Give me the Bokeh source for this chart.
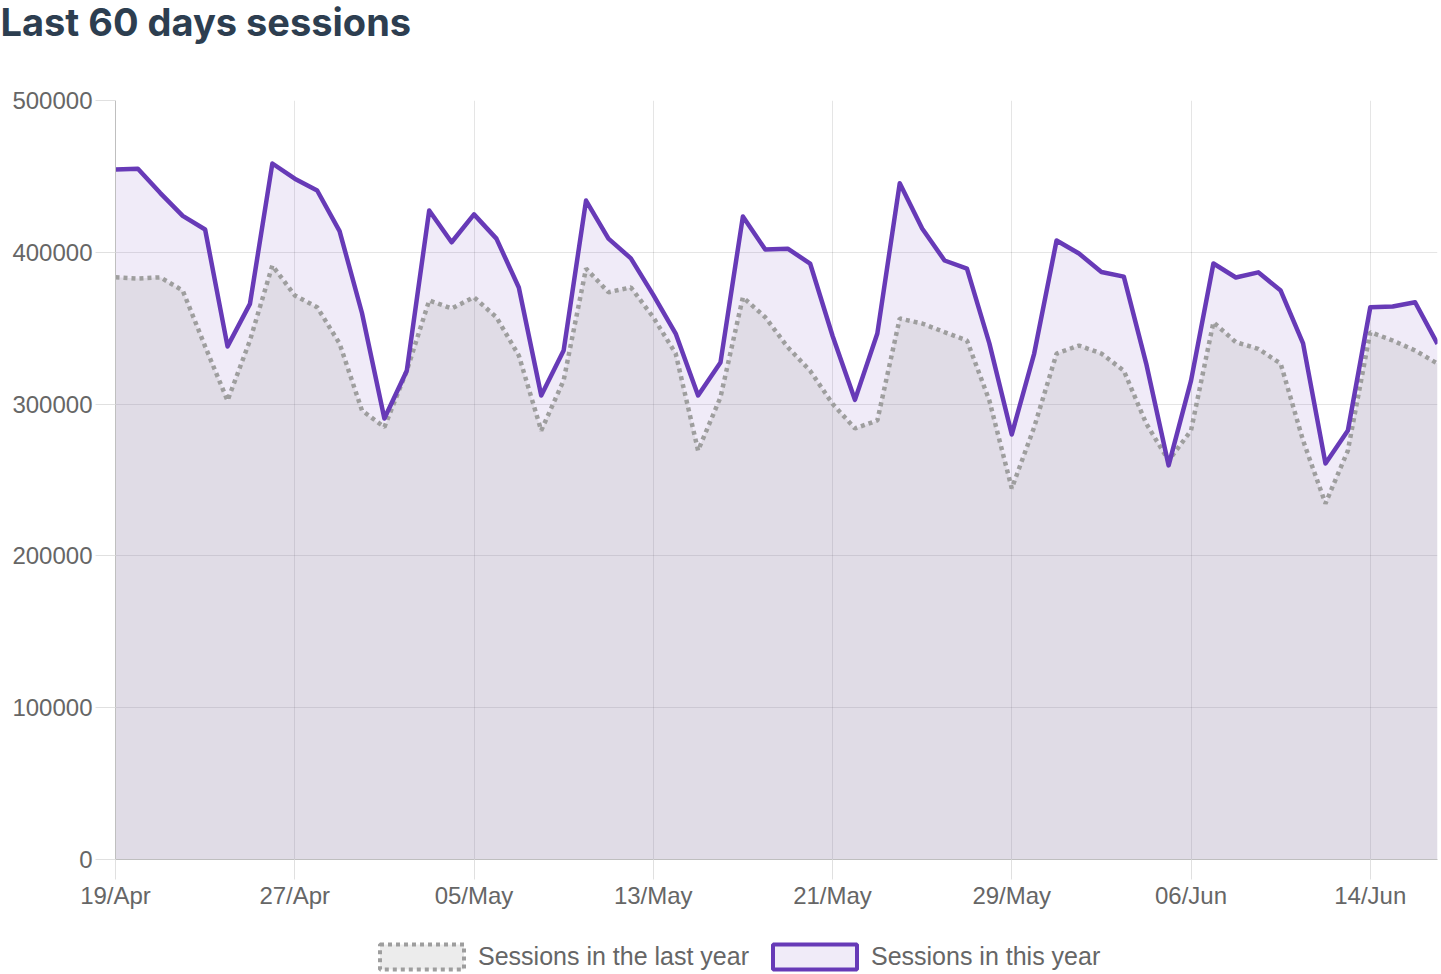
from bokeh.plotting import figure
from bokeh.layouts import column
from bokeh.models import Range1d, FixedTicker, NumeralTickFormatter, Legend, LegendItem
from bokeh.core.properties import value
from bokeh.embed import file_html
from bokeh.resources import INLINE

# ---- data ----
title_text = "Last 60 days sessions"
days = list(range(60))  # 19/Apr .. 17/Jun
tick_days = [0, 8, 16, 24, 32, 40, 48, 56]
tick_labels = ["19/Apr", "27/Apr", "05/May", "13/May", "21/May", "29/May", "06/Jun", "14/Jun"]

this_year = [
    454500, 455000, 439000, 424000, 415000, 338000, 366000, 458500, 448500, 440700,
    414000, 360000, 290500, 322000, 427500, 406600, 425000, 409000, 376800, 305700,
    335300, 434100, 409000, 396000, 372000, 346500, 305700, 327400, 423600, 401800,
    402400, 392600, 345000, 302800, 346500, 445500, 415700, 394600, 389300, 340000,
    280000, 333300, 407800, 399200, 387000, 384000, 326700, 259600, 315500, 392600,
    383400, 386800, 374800, 340000, 260900, 282600, 363800, 364300, 367100, 339700,
]
last_year = [
    383500, 382700, 383500, 374800, 338000, 302300, 341900, 391300, 371600, 363800,
    339900, 295800, 284800, 322000, 368300, 363000, 370400, 357200, 332000, 282600,
    315600, 389300, 373700, 376900, 357200, 333300, 269400, 304500, 370400, 357200,
    337500, 322000, 300200, 284000, 289200, 356400, 353100, 347400, 341900, 302300,
    244400, 284800, 333300, 338600, 333300, 322000, 287200, 262800, 282600, 353900,
    340800, 336400, 326700, 276000, 234500, 269400, 347400, 341900, 335300, 326700,
]
y_ticks = [0, 100000, 200000, 300000, 400000, 500000]
series_names = ["Sessions in the last year", "Sessions in this year"]

PURPLE = "#673ab7"
GREY = "#9e9e9e"
FONT = "Liberation Sans"
W = 1441


def blank_fig(h):
    f = figure(width=W, height=h, output_backend="svg", toolbar_location=None,
               x_range=Range1d(0, W), y_range=Range1d(0, h),
               min_border=0, min_border_left=0, min_border_right=0,
               min_border_top=0, min_border_bottom=0)
    f.frame_align = False
    f.axis.visible = False
    f.grid.visible = False
    f.outline_line_color = None
    return f


# ---- title strip ----
TH = 60
tf = blank_fig(TH)
tf.text(x=[0], y=[TH - 21], text=[title_text], text_font=value("Inter"),
        text_font_size="38px", text_font_style="bold", text_color="#2d3e50",
        text_baseline="alphabetic", text_align="left")

# ---- main chart ----
MH = 870
p = figure(width=W, height=MH, output_backend="svg", toolbar_location=None,
           x_range=Range1d(0, 59), y_range=Range1d(0, 500000),
           min_border_left=115, min_border_right=4, min_border_top=40, min_border_bottom=71)
p.frame_align = False
p.outline_line_color = None

p.varea(x=days, y1=0, y2=this_year, fill_color=PURPLE, fill_alpha=0.1)
p.varea(x=days, y1=0, y2=last_year, fill_color=GREY, fill_alpha=0.2)
p.line(x=days, y=last_year, line_color=GREY, line_width=4.5, line_dash="4 4")
p.line(x=days, y=this_year, line_color=PURPLE, line_width=4.5, line_join="round")

for ax in (p.xaxis[0], p.yaxis[0]):
    ax.axis_line_color = "#bfbfbf"
    ax.axis_line_width = 1
    ax.major_tick_line_color = "#e0e0e0"
    ax.major_tick_in = 0
    ax.major_tick_out = 20
    ax.minor_tick_line_color = None
    ax.major_label_text_font = FONT
    ax.major_label_text_font_size = "24px"
    ax.major_label_text_color = "#666666"
p.xaxis.ticker = FixedTicker(ticks=tick_days)
p.xaxis.major_label_overrides = {d: l for d, l in zip(tick_days, tick_labels)}
p.xaxis.major_label_standoff = 2
p.yaxis.ticker = FixedTicker(ticks=y_ticks)
p.yaxis.formatter = NumeralTickFormatter(format="0")
p.yaxis.major_label_standoff = 3

p.xgrid.ticker = FixedTicker(ticks=tick_days)
p.ygrid.ticker = FixedTicker(ticks=y_ticks)
for g in (p.xgrid[0], p.ygrid[0]):
    g.grid_line_color = "#000000"
    g.grid_line_alpha = 0.1

# ---- legend strip ----
LH = 44
lf = blank_fig(LH)
# off-screen swatch glyphs used only for the legend boxes
r1 = lf.quad(left=[-30], right=[-20], top=[-20], bottom=[-30], fill_color=GREY, fill_alpha=0.2,
             line_color=GREY, line_width=4, line_dash="4 4")
r2 = lf.quad(left=[-30], right=[-20], top=[-20], bottom=[-30], fill_color=PURPLE, fill_alpha=0.1,
             line_color=PURPLE, line_width=4)
legend = Legend(items=[LegendItem(label=series_names[0], renderers=[r1]),
                       LegendItem(label=series_names[1], renderers=[r2])],
                orientation="horizontal", location=(369, 2),
                glyph_width=105, glyph_height=31, label_standoff=4, spacing=13,
                padding=0, margin=0, border_line_color=None, background_fill_alpha=0,
                label_text_font=FONT, label_text_font_size="25px", label_text_color="#666666")
lf.add_layout(legend)

layout = column(tf, p, lf, spacing=0)
open("out.html", "w").write(file_html(layout, INLINE))
